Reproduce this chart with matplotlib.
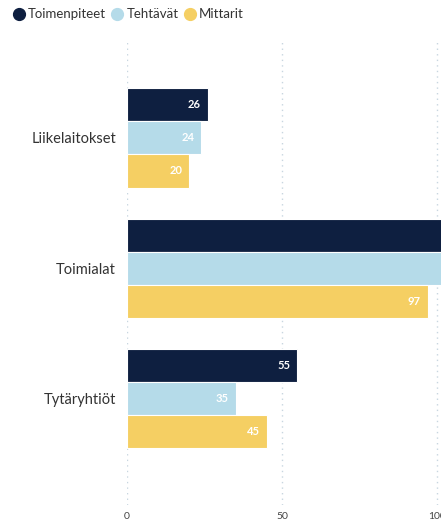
import numpy as np
import matplotlib.pyplot as plt
from matplotlib.lines import Line2D

plt.rcParams['font.family'] = ['Lato', 'DejaVu Sans']

# Data
categories = ['Liikelaitokset', 'Toimialat', 'Tytäryhtiöt']
series_names = ['Toimenpiteet', 'Tehtävät', 'Mittarit']
toimenpiteet = [26, 120, 55]
tehtavat = [24, 110, 35]
mittarit = [20, 97, 45]
colors = ['#0e1f40', '#b5dbe9', '#f5cf63']

W, H = 441, 522
fig = plt.figure(figsize=(W / 100, H / 100), dpi=100)

# axes extends past the right edge like the cropped original
x_max = 140
px_per_unit = 3.1
left, top, bottom = 127, 39, 505
ax = fig.add_axes([left / W, 1 - bottom / H, x_max * px_per_unit / W, (bottom - top) / H])

y = np.arange(len(categories))
h = 0.254
for i, (vals, c) in enumerate(zip([toimenpiteet, tehtavat, mittarit], colors)):
    pos = y + (i - 1) * h
    bars = ax.barh(pos, vals, height=h, color=c, edgecolor='white', linewidth=0.8, zorder=3)
    for b, v in zip(bars, vals):
        ax.text(v - 2.2, b.get_y() + h / 2, str(v), ha='right', va='center',
                color='white', fontsize=8, fontweight='bold', zorder=4)

ax.set_xlim(0, x_max)
ax.set_ylim(2.82, -0.76)
ax.set_xticks([0, 50, 100])
ax.set_yticks(y)
ax.set_yticklabels(categories, fontsize=10.5, color='#333333')
ax.tick_params(axis='y', length=0, pad=8)
ax.tick_params(axis='x', length=0, pad=5, labelsize=7.5, labelcolor='#444444')
ax.grid(axis='x', color='#c8d6e0', linestyle=(0, (1, 3)), linewidth=1, zorder=0)
for s in ax.spines.values():
    s.set_visible(False)

handles = [Line2D([], [], marker='o', linestyle='', markersize=8.5, color=c) for c in colors]
fig.legend(handles, series_names, loc='upper left', bbox_to_anchor=(0.014, 0.998),
           ncol=3, frameon=False, fontsize=9.5, handlelength=0.8, handletextpad=0.3,
           columnspacing=0.45, borderpad=0.3, borderaxespad=0.25, labelcolor='#333333')

fig.savefig('out.png', dpi=100)
